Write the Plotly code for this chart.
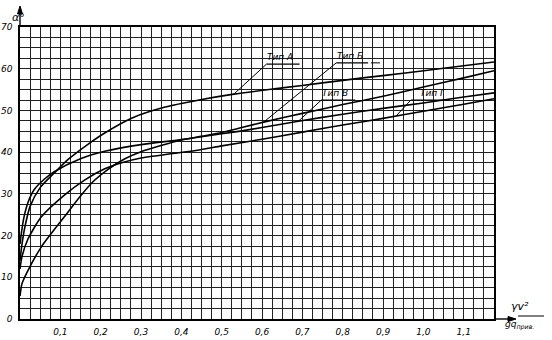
import numpy as np
import plotly.graph_objects as go

# ---- data ----
x_A = [0, 0.005, 0.012, 0.025, 0.05, 0.085, 0.12, 0.17, 0.21, 0.278, 0.36, 0.444, 0.53, 0.65, 0.75, 0.85, 0.95, 1.05, 1.175]
y_A = [14, 18, 22, 27, 31.5, 35.0, 38.3, 42, 44.6, 48.2, 50.8, 52.5, 53.9, 55.4, 56.6, 57.8, 58.9, 60.1, 61.6]

x_B = [0, 0.005, 0.019, 0.053, 0.11, 0.15, 0.184, 0.22, 0.26, 0.3, 0.4, 0.45, 0.5, 0.55, 0.604, 0.7, 0.8, 0.9, 1.0, 1.1, 1.175]
y_B = [5.5, 8.5, 11.5, 17.3, 24.5, 29.5, 33.2, 36.0, 38.4, 40.1, 42.9, 43.8, 44.7, 45.9, 47.2, 49.3, 51.4, 53.4, 55.6, 57.8, 59.5]

x_V = [0, 0.004, 0.01, 0.02, 0.035, 0.06, 0.085, 0.15, 0.21, 0.3, 0.4, 0.45, 0.5, 0.55, 0.6, 0.69, 0.8, 0.9, 1.0, 1.1, 1.175]
y_V = [18, 21, 24.5, 28, 31, 33.5, 35.3, 38.4, 40.2, 41.8, 43.0, 43.7, 44.4, 45.1, 45.9, 47.4, 49.1, 50.5, 51.8, 53.2, 54.2]

x_G = [0, 0.005, 0.019, 0.053, 0.11, 0.16, 0.21, 0.25, 0.3, 0.444, 0.5, 0.6, 0.7, 0.8, 0.9, 1.0, 1.1, 1.175]
y_G = [12, 15, 19, 24.5, 29.7, 33.3, 36.0, 37.4, 38.6, 40.5, 41.5, 43.1, 44.8, 46.5, 48.1, 49.8, 51.5, 52.8]

curve_names = ["Тип А", "Тип Б", "Тип В", "Тип Г"]
x_ticks = [0.1, 0.2, 0.3, 0.4, 0.5, 0.6, 0.7, 0.8, 0.9, 1.0, 1.1]
x_ticktext = ["0,1", "0,2", "0,3", "0,4", "0,5", "0,6", "0,7", "0,8", "0,9", "1,0", "1,1"]
y_ticks = [0, 10, 20, 30, 40, 50, 60, 70]

# label positions (data coords): underline start, underline end x, leader target x on curve
label_pos = [(0.611, 61.1, 0.693, 0.53), (0.784, 61.4, 0.863, 0.604),
             (0.747, 52.5, 0.831, 0.69), (0.969, 52.5, 1.065, 0.932)]

fig = go.Figure()
series = [(x_A, y_A), (x_B, y_B), (x_V, y_V), (x_G, y_G)]
for (xs, ys), nm in zip(series, curve_names):
    fig.add_trace(go.Scatter(x=xs, y=ys, mode="lines", name=nm,
                             line=dict(color="black", width=1.6, shape="spline", smoothing=0.7),
                             hoverinfo="skip"))

W, H = 552, 340
L, R, T, B = 20, 58, 27, 21
pw, ph = W - L - R, H - T - B

def px(xp):
    return (xp - L) / pw

def py(yp):
    return (H - B - yp) / ph

shapes = []
annotations = []
for (xs, ys), nm, (lx, ly, ux, tx) in zip(series, curve_names, label_pos):
    ty = float(np.interp(tx, xs, ys))
    shapes.append(dict(type="line", xref="x", yref="y", x0=lx, y0=ly, x1=tx, y1=ty,
                       line=dict(color="black", width=1)))
    shapes.append(dict(type="line", xref="x", yref="y", x0=lx, y0=ly, x1=ux, y1=ly,
                       line=dict(color="black", width=1.2)))
    annotations.append(dict(x=lx + (0.02 if nm == "Тип Г" else 0.0), y=ly + 0.2, xref="x", yref="y",
                            text="<i>" + nm + "</i>", showarrow=False,
                            xanchor="left", yanchor="bottom", borderpad=0,
                            font=dict(family="DejaVu Sans", size=9, color="black")))
# dashed extension after Тип Б
shapes.append(dict(type="line", xref="x", yref="y", x0=0.87, y0=61.4, x1=0.90, y1=61.4,
                   line=dict(color="black", width=1, dash="dash")))

# axis arrows (drawn as shapes)
shapes.append(dict(type="line", xref="paper", yref="paper", x0=px(20), x1=px(20),
                   y0=py(27), y1=py(9), line=dict(color="black", width=1.4)))
shapes.append(dict(type="path", xref="paper", yref="paper",
                   path="M %f %f L %f %f L %f %f Z" % (px(17.5), py(14), px(20), py(6), px(22.5), py(14)),
                   fillcolor="black", line=dict(color="black", width=1)))
shapes.append(dict(type="line", xref="paper", yref="paper", x0=px(494), x1=px(512),
                   y0=py(319), y1=py(319), line=dict(color="black", width=1.4)))
shapes.append(dict(type="path", xref="paper", yref="paper",
                   path="M %f %f L %f %f L %f %f Z" % (px(508), py(316.5), px(516), py(319), px(508), py(321.5)),
                   fillcolor="black", line=dict(color="black", width=1)))

annotations.append(dict(xref="paper", yref="paper", x=px(10), y=py(9), text="<i>α°</i>",
                        showarrow=False, font=dict(family="DejaVu Sans", size=11, color="black")))
annotations.append(dict(xref="paper", yref="paper", x=px(531), y=py(315), yanchor="bottom",
                        text="<i>γv²</i>",
                        showarrow=False, font=dict(family="DejaVu Sans", size=11, color="black")))
annotations.append(dict(xref="paper", yref="paper", x=px(536), y=py(317), yanchor="top",
                        text="<i>gq<sub>прив.</sub></i>",
                        showarrow=False, font=dict(family="DejaVu Sans", size=9, color="black")))
shapes.append(dict(type="line", xref="paper", yref="paper", x0=px(518), x1=px(544),
                   y0=py(316), y1=py(316), line=dict(color="black", width=1)))

grid_c = "#222222"
fig.update_layout(
    width=W, height=H,
    margin=dict(l=L, r=R, t=T, b=B, pad=0, autoexpand=False),
    paper_bgcolor="white", plot_bgcolor="white",
    showlegend=False,
    shapes=shapes, annotations=annotations,
    xaxis=dict(range=[0, 1.175], tickvals=x_ticks, automargin=False,
               ticktext=["<i>" + t + "</i>" for t in x_ticktext],
               showgrid=True, gridcolor=grid_c, gridwidth=1.3,
               minor=dict(dtick=0.025, tick0=0, showgrid=True, gridcolor=grid_c, gridwidth=1.3),
               showline=True, linecolor="black", linewidth=1.6, mirror=True,
               ticks="", zeroline=False, ticklabelstandoff=3,
               tickfont=dict(family="DejaVu Sans", size=9, color="black")),
    yaxis=dict(range=[0, 70], tickvals=y_ticks, automargin=False,
               ticktext=["<i>%d</i>" % v for v in y_ticks],
               showgrid=True, gridcolor=grid_c, gridwidth=1.3,
               minor=dict(dtick=2.5, tick0=0, showgrid=True, gridcolor=grid_c, gridwidth=1.3),
               showline=True, linecolor="black", linewidth=1.6, mirror=True,
               ticks="", zeroline=False, ticklabelstandoff=4,
               tickfont=dict(family="DejaVu Sans", size=9, color="black")),
)

fig.write_html("out.html")
